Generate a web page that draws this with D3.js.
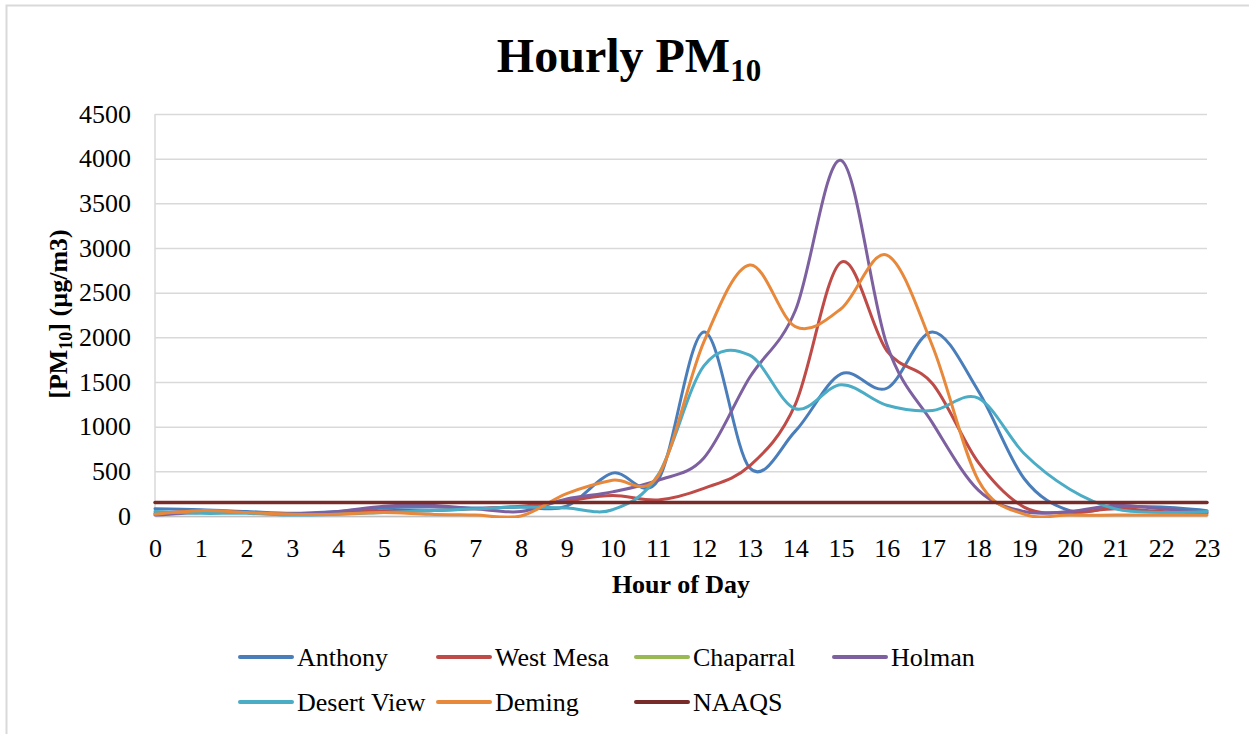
<!DOCTYPE html>
<html>
<head>
<meta charset="utf-8">
<script src="https://cdn.jsdelivr.net/npm/d3@7"></script>
<style>
  body { margin: 0; background: #ffffff; }
  svg { display: block; }
  text { font-family: "Liberation Serif", "Times New Roman", serif; fill: #000; }
</style>
</head>
<body>
<svg id="chart" width="1249" height="734"></svg>
<script>
// Hour-of-day categories
const hours = [0, 1, 2, 3, 4, 5, 6, 7, 8, 9, 10, 11, 12, 13, 14, 15, 16, 17, 18, 19, 20, 21, 22, 23];

// Hourly PM10 concentrations (µg/m3) per monitoring site
const anthony    = [80, 70, 50, 30, 50, 90, 100, 90, 100, 110, 480, 400, 2060, 540, 950, 1590, 1430, 2060, 1400, 420, 60, 100, 100, 60];
const westMesa   = [30, 50, 40, 20, 30, 60, 60, 80, 110, 170, 230, 180, 310, 560, 1250, 2840, 1850, 1480, 600, 100, 40, 80, 50, 30];
const chaparral  = [null, null, null, null, null, null, null, null, null, null, null, null, null, null, null, null, null, null, null, null, null, null, null, null];
const holman     = [10, 40, 40, 20, 50, 110, 120, 80, 50, 190, 270, 400, 650, 1550, 2300, 3980, 1920, 1040, 290, 50, 50, 120, 80, 40];
const desertView = [50, 30, 30, 10, 20, 40, 60, 80, 100, 90, 70, 460, 1680, 1800, 1200, 1470, 1240, 1180, 1320, 700, 300, 80, 40, 50];
const deming     = [20, 60, 40, 20, 20, 40, 20, 10, 0, 250, 400, 450, 1950, 2810, 2120, 2320, 2920, 1900, 400, 20, 10, 10, 10, 10];
const naaqs      = [150, 150, 150, 150, 150, 150, 150, 150, 150, 150, 150, 150, 150, 150, 150, 150, 150, 150, 150, 150, 150, 150, 150, 150];

// Axis ticks
const yTicks = [0, 500, 1000, 1500, 2000, 2500, 3000, 3500, 4000, 4500];
const xTickLabels = ["0", "1", "2", "3", "4", "5", "6", "7", "8", "9", "10", "11", "12", "13", "14", "15", "16", "17", "18", "19", "20", "21", "22", "23"];

// Series definitions (drawn in this order; later ones sit on top)
const seriesNames  = ["Anthony", "West Mesa", "Chaparral", "Holman", "Desert View", "Deming", "NAAQS"];
const seriesValues = [anthony, westMesa, chaparral, holman, desertView, deming, naaqs];
const seriesColors = ["#4a7ebb", "#be4b48", "#98b954", "#7d60a0", "#4bacc6", "#e8883a", "#772c2a"];

const svg = d3.select("#chart");

// Outer chart frame
svg.append("rect")
  .attr("x", 6.5).attr("y", 5.5)
  .attr("width", 1270).attr("height", 760)
  .attr("fill", "none")
  .attr("stroke", "#d9d9d9")
  .attr("stroke-width", 2);

const plot = { left: 155, right: 1207, top: 114, bottom: 516 };

const x = d3.scaleLinear().domain([0, 23]).range([plot.left, plot.right]);
const y = d3.scaleLinear().domain([0, 4500]).range([plot.bottom, plot.top]);

// Plot-area clip so smoothed curves do not spill below the axis
svg.append("defs").append("clipPath").attr("id", "plotClip")
  .append("rect")
  .attr("x", plot.left - 4).attr("y", plot.top - 10)
  .attr("width", plot.right - plot.left + 8)
  .attr("height", plot.bottom - plot.top + 12);

// Horizontal gridlines
svg.append("g")
  .attr("transform", `translate(${plot.left},0)`)
  .call(d3.axisLeft(y).tickValues(yTicks).tickSize(-(plot.right - plot.left)).tickFormat(""))
  .call(g => g.select(".domain").remove())
  .call(g => g.selectAll(".tick line").attr("stroke", "#d9d9d9").attr("stroke-width", 1.5));

// Vertical axis line
svg.append("line")
  .attr("x1", plot.left).attr("x2", plot.left)
  .attr("y1", plot.top).attr("y2", plot.bottom)
  .attr("stroke", "#d9d9d9").attr("stroke-width", 1.5);

// Y tick labels
svg.append("g")
  .attr("transform", `translate(${plot.left},0)`)
  .call(d3.axisLeft(y).tickValues(yTicks).tickSize(0).tickPadding(24).tickFormat(d3.format("d")))
  .call(g => g.select(".domain").remove())
  .call(g => g.selectAll("text")
    .style("font-family", "'Liberation Serif', serif")
    .style("font-size", "26px")
    .attr("fill", "#000"));

// X axis
svg.append("g")
  .attr("transform", `translate(0,${plot.bottom})`)
  .call(d3.axisBottom(x).tickValues(hours).tickSize(0).tickFormat((d, i) => xTickLabels[i]))
  .call(g => g.select(".domain").attr("stroke", "#bfbfbf").attr("stroke-width", 1.5))
  .call(g => g.selectAll("text")
    .attr("y", 41).attr("dy", 0)
    .style("font-family", "'Liberation Serif', serif")
    .style("font-size", "26px")
    .attr("fill", "#000"));

// Smoothed series lines
const line = d3.line()
  .defined(d => d.v !== null)
  .x(d => x(d.h))
  .y(d => y(d.v))
  .curve(d3.curveCardinal.tension(0));

const linesG = svg.append("g").attr("clip-path", "url(#plotClip)");
seriesValues.forEach((vals, i) => {
  const pts = hours.map((h, j) => ({ h: h, v: vals[j] }));
  linesG.append("path")
    .datum(pts)
    .attr("d", line)
    .attr("fill", "none")
    .attr("stroke", seriesColors[i])
    .attr("stroke-width", i === 6 ? 3.5 : 3)
    .attr("stroke-linejoin", "round")
    .attr("stroke-linecap", "round");
});

// Title
const title = svg.append("text")
  .attr("x", 629).attr("y", 72)
  .attr("text-anchor", "middle")
  .style("font-size", "48px")
  .style("font-weight", "bold");
title.append("tspan").text("Hourly PM");
title.append("tspan").attr("dy", 9).style("font-size", "31px").text("10");

// X axis title
svg.append("text")
  .attr("x", (plot.left + plot.right) / 2).attr("y", 593)
  .attr("text-anchor", "middle")
  .style("font-size", "26px")
  .style("font-weight", "bold")
  .text("Hour of Day");

// Y axis title
const yTitle = svg.append("text")
  .attr("transform", `translate(67,314) rotate(-90)`)
  .attr("text-anchor", "middle")
  .style("font-size", "26px")
  .style("font-weight", "bold");
yTitle.append("tspan").text("[PM");
yTitle.append("tspan").attr("dy", 5).style("font-size", "18px").text("10");
yTitle.append("tspan").attr("dy", -5).text("] (µg/m3)");

// Legend
const legendCols = [240, 438, 636, 834];
const legendRows = [657, 702];
const legendOrder = [0, 1, 2, 3, 4, 5, 6];
const legend = svg.append("g");
legendOrder.forEach((si, k) => {
  const row = Math.floor(k / 4);
  const col = k % 4;
  const lx = legendCols[col];
  const ly = legendRows[row];
  legend.append("line")
    .attr("x1", lx).attr("x2", lx + 52)
    .attr("y1", ly).attr("y2", ly)
    .attr("stroke", seriesColors[si])
    .attr("stroke-width", 4)
    .attr("stroke-linecap", "round");
  legend.append("text")
    .attr("x", lx + 57).attr("y", ly + 9)
    .style("font-size", "26px")
    .text(seriesNames[si]);
});
</script>
</body>
</html>
